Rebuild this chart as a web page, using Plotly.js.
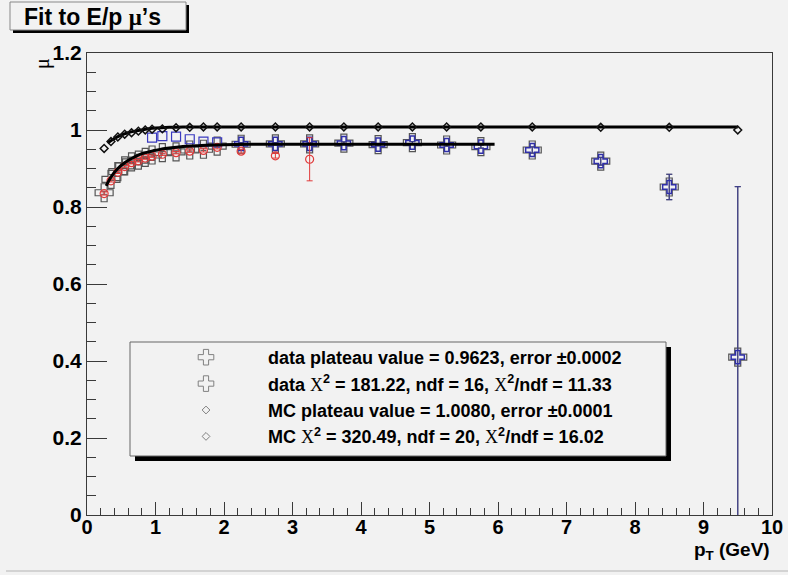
<!DOCTYPE html>
<html><head><meta charset="utf-8">
<script src="https://cdn.plot.ly/plotly-3.0.1.min.js"></script>
<style>html,body{margin:0;padding:0;background:#f2f2f2;}</style>
</head><body><div id="chart" style="width:788px;height:575px;"></div>
<script>
// ---- data ----
const binX = [0.25,0.35,0.45,0.55,0.65,0.75,0.85,0.95,1.1,1.3,1.5,1.7,1.9,2.25,2.75,3.25,3.75,4.25,4.75,5.25,5.75,6.5,7.5,8.5,9.5];
const mcY  = [0.952,0.970,0.982,0.989,0.993,0.997,1.000,1.002,1.003,1.006,1.007,1.008,1.008,1.008,1.008,1.008,1.008,1.008,1.008,1.008,1.008,1.008,1.007,1.007,1.000];
const dataY = [0.837,0.872,0.892,0.907,0.917,0.922,0.929,0.935,0.941,0.943,0.948,0.950,0.958,0.963,0.964,0.964,0.966,0.962,0.967,0.961,0.957,0.948,0.919,0.852,0.410];
const dataErr = [0.004,0.003,0.003,0.003,0.003,0.003,0.003,0.003,0.003,0.003,0.003,0.003,0.003,0.003,0.003,0.003,0.003,0.003,0.003,0.003,0.004,0.008,0.010,0.033,0.443];

const blueSqX = [0.95,1.1,1.3,1.5,1.7,1.9];
const blueSqY = [0.980,0.984,0.983,0.976,0.970,0.968];
const blueX = [2.25,2.75,3.25,3.75,4.25,4.75,5.25,5.75,6.5,7.5,8.5,9.5];
const blueY = [0.964,0.964,0.964,0.966,0.962,0.967,0.961,0.957,0.948,0.919,0.852,0.410];
const blueErr = [0.003,0.003,0.003,0.003,0.003,0.003,0.003,0.004,0.008,0.010,0.033,0.443];

const redX = [0.25,0.35,0.45,0.55,0.65,0.75,0.85,0.95,1.1,1.3,1.5,1.7,1.9,2.25,2.75,3.25];
const redY = [0.835,0.868,0.890,0.905,0.915,0.920,0.927,0.932,0.937,0.941,0.945,0.947,0.955,0.945,0.933,0.924];
const redErr = [0.004,0.003,0.003,0.003,0.003,0.003,0.003,0.003,0.003,0.003,0.003,0.004,0.004,0.005,0.006,0.056];

const dataFitX = [0.28,0.35,0.45,0.55,0.65,0.75,0.9,1.05,1.2,1.4,1.6,1.8,2.0,2.5,3.0,4.0,5.0,5.95];
const dataFitY = [0.855,0.878,0.900,0.915,0.926,0.935,0.943,0.949,0.953,0.957,0.959,0.961,0.962,0.963,0.963,0.963,0.963,0.963];
const mcFitX = [0.3,0.4,0.5,0.6,0.7,0.8,0.9,1.0,1.2,1.4,1.7,2.0,3.0,9.5];
const mcFitY = [0.966,0.978,0.987,0.993,0.997,1.000,1.003,1.005,1.007,1.008,1.008,1.008,1.008,1.008];

const xTickVals = [0,1,2,3,4,5,6,7,8,9,10];
const yTickVals = [0,0.2,0.4,0.6,0.8,1,1.2];

const SERIF_X = '<span style="font-family:\'Liberation Serif\';font-weight:normal">X</span><sup>2</sup>';
const legendTexts = [
  'data plateau value = 0.9623, error \u00b10.0002',
  'data ' + SERIF_X + ' = 181.22, ndf = 16, ' + SERIF_X + '/ndf = 11.33',
  'MC plateau value = 1.0080, error \u00b10.0001',
  'MC ' + SERIF_X + ' = 320.49, ndf = 20, ' + SERIF_X + '/ndf = 16.02'
];

// ---- layout helpers (pixel -> paper) ----
const L = 87, R = 772, T = 53, B = 515;
const px = v => (v - L) / (R - L);
const py = v => (B - v) / (B - T);

const FONT = 'Liberation Sans, Arial, sans-serif';
const dark = '#3a3a3a';

const traces = [
  {x: binX, y: dataY, mode: 'markers', type: 'scatter', showlegend: false,
   marker: {symbol: 'cross-open', size: 15, color: '#555', line: {width: 1.2, color: '#555'}},
   error_y: {type: 'data', array: dataErr, color: '#555', thickness: 1, width: 3}},
  {x: blueSqX, y: blueSqY, mode: 'markers', type: 'scatter', showlegend: false,
   marker: {symbol: 'square-open', size: 9, color: '#3a3ac0', line: {width: 1.2, color: '#3a3ac0'}}},
  {x: blueX, y: blueY, mode: 'markers', type: 'scatter', showlegend: false,
   marker: {symbol: 'cross-open', size: 11, color: '#2f2fa8', line: {width: 1.5, color: '#2f2fa8'}},
   error_y: {type: 'data', array: blueErr, color: '#40408a', thickness: 1.2, width: 3}},
  {x: redX, y: redY, mode: 'markers', type: 'scatter', showlegend: false,
   marker: {symbol: 'circle-open', size: 8, color: '#e03a3a', line: {width: 1.2, color: '#e03a3a'}},
   error_y: {type: 'data', array: redErr, color: '#e03a3a', thickness: 1, width: 3}},
  {x: dataFitX, y: dataFitY, mode: 'lines', type: 'scatter', showlegend: false,
   line: {color: '#000', width: 3, shape: 'spline'}},
  {x: mcFitX, y: mcFitY, mode: 'lines', type: 'scatter', showlegend: false,
   line: {color: '#000', width: 3, shape: 'spline'}},
  {x: binX, y: mcY, mode: 'markers', type: 'scatter', showlegend: false,
   marker: {symbol: 'diamond-open', size: 6, color: '#111', line: {width: 1.5, color: '#111'}}},
];
const legSyms = ['cross-open','cross-open','diamond-open','diamond-open'];
const legSizes = [13,13,6,6];
legendTexts.forEach((t, i) => {
  traces.push({x: [null], y: [null], type: 'scatter', mode: 'markers', name: t,
    marker: {symbol: legSyms[i], size: legSizes[i], color: '#808080', line: {width: 1, color: '#808080'}}});
});

const shapes = [
  // legend box shadow and frame
  {type: 'rect', xref: 'paper', yref: 'paper', x0: px(135), x1: px(671), y0: py(461), y1: py(347), fillcolor: '#000', line: {width: 0}, layer: 'above'},
  {type: 'rect', xref: 'paper', yref: 'paper', x0: px(130), x1: px(666), y0: py(456), y1: py(342), fillcolor: '#f2f2f2', line: {width: 1, color: '#666'}, layer: 'above'},
  // title box shadow and frame
  {type: 'rect', xref: 'paper', yref: 'paper', x0: px(13), x1: px(189), y0: py(33), y1: py(5), fillcolor: '#000', line: {width: 0}},
  {type: 'rect', xref: 'paper', yref: 'paper', x0: px(10), x1: px(186), y0: py(30), y1: py(2), fillcolor: '#f2f2f2', line: {width: 1, color: '#888'}},
  // bottom border line of canvas
  {type: 'line', xref: 'paper', yref: 'paper', x0: px(6), x1: px(788), y0: py(571), y1: py(571), line: {width: 1.5, color: '#c8c8c8'}},
];

const annotations = [
  {xref: 'paper', yref: 'paper', x: px(22), y: py(17), xanchor: 'left', yanchor: 'middle', showarrow: false,
   text: '<b>Fit to E/p <span style="font-family:\'Liberation Serif\'">\u03bc</span>\u2019s</b>', font: {family: FONT, size: 23, color: '#000'}},
  {xref: 'paper', yref: 'paper', x: px(42), y: py(64), xanchor: 'center', yanchor: 'middle', showarrow: false, textangle: -90,
   text: '\u03bc', font: {family: 'Liberation Serif, serif', size: 20, color: '#000'}},
  {xref: 'paper', yref: 'paper', x: px(772), y: py(551), xanchor: 'right', yanchor: 'middle', showarrow: false,
   text: '<b>p<sub>T</sub> (GeV)</b>', font: {family: FONT, size: 19, color: '#000'}},
];

const layout = {
  width: 788, height: 575,
  margin: {l: L, r: 788 - R, t: T, b: 575 - B, pad: 0},
  paper_bgcolor: '#f2f2f2', plot_bgcolor: '#f2f2f2',
  showlegend: true,
  legend: {x: px(144), y: py(339), xanchor: 'left', yanchor: 'top', bgcolor: 'rgba(0,0,0,0)', borderwidth: 0,
    font: {family: FONT, size: 18, color: '#000', weight: 'bold'}, itemwidth: 114},
  xaxis: {range: [0, 10], tickvals: xTickVals, ticks: 'inside', ticklen: 13, tickcolor: dark, tickwidth: 1,
    showline: true, linecolor: dark, linewidth: 1, mirror: true, showgrid: false, zeroline: false,
    ticklabelstandoff: -6,
    minor: {ticks: 'inside', dtick: 0.2, ticklen: 7, tickcolor: dark, showgrid: false},
    tickfont: {family: FONT, size: 20, color: '#000', weight: 'bold'}},
  yaxis: {range: [0, 1.2], tickvals: yTickVals, ticks: 'inside', ticklen: 20, tickcolor: dark, tickwidth: 1,
    showline: true, linecolor: dark, linewidth: 1, mirror: true, showgrid: false, zeroline: false,
    minor: {ticks: 'inside', dtick: 0.05, ticklen: 9, tickcolor: dark, showgrid: false},
    tickfont: {family: FONT, size: 21, color: '#000', weight: 'bold'}},
  shapes: shapes,
  annotations: annotations,
};

Plotly.newPlot('chart', traces, layout, {displayModeBar: false, staticPlot: true});
</script>
</body></html>
